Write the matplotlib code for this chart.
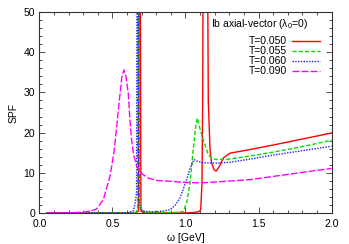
import numpy as np
import matplotlib
matplotlib.use("Agg")
import matplotlib.pyplot as plt
from matplotlib.ticker import MultipleLocator

plt.rcParams["font.family"] = ["Liberation Sans", "DejaVu Sans"]
plt.rcParams["mathtext.fontset"] = "custom"
plt.rcParams["mathtext.rm"] = "Liberation Sans"
plt.rcParams["mathtext.it"] = "Liberation Sans"

# valores (omega en GeV, SPF)
w_050 = [0.05, 0.66, 0.678, 0.684, 0.689, 0.695, 0.72, 1.0, 1.05, 1.09, 1.104, 1.113,
         1.118, 1.122, 1.149, 1.156, 1.168, 1.179, 1.195, 1.209, 1.232, 1.259, 1.305,
         1.4, 1.6, 1.8, 2.0]
s_050 = [0.0, 0.0, 0.5, 80, 80, 0.5, 0.0, 0.0, 0.1, 0.3, 0.8, 7.5,
         30, 80, 80, 28, 15.7, 12.4, 10.8, 10.4, 11.6, 13.7, 14.9,
         15.5, 16.9, 18.4, 19.9]

w_055 = [0.05, 0.66, 0.672, 0.676, 0.68, 0.684, 0.695, 0.72, 0.9, 0.95, 0.985, 1.008,
         1.031, 1.053, 1.07, 1.081, 1.095, 1.122, 1.156, 1.185, 1.214, 1.3, 1.5, 1.7,
         1.85, 2.0]
s_055 = [0.0, 0.1, 1.0, 80, 80, 3.0, 1.0, 0.2, 0.1, 0.2, 0.4, 2.5,
         7.5, 15.8, 21.5, 23.6, 21.5, 18.2, 14.5, 13.5, 13.3, 13.4, 14.5, 15.8,
         16.9, 18.1]

w_060 = [0.05, 0.6, 0.643, 0.655, 0.665, 0.669, 0.674, 0.68, 0.69, 0.72, 0.8, 0.85,
         0.894, 0.93, 0.962, 0.985, 1.008, 1.03, 1.058, 1.08, 1.12, 1.21, 1.3, 1.442,
         1.6, 1.8, 2.0]
s_060 = [0.0, 0.05, 0.5, 2.5, 5.0, 80, 80, 3.0, 1.0, 0.4, 0.3, 0.5,
         0.8, 2.0, 3.7, 6.0, 8.3, 11.0, 13.3, 12.9, 12.5, 12.4, 12.6, 13.4,
         14.4, 15.5, 16.6]

w_090 = [0.05, 0.2, 0.3, 0.35, 0.392, 0.437, 0.483, 0.51, 0.529, 0.55, 0.565, 0.579,
         0.592, 0.608, 0.62, 0.631, 0.645, 0.666, 0.7, 0.745, 0.8, 0.894, 1.0, 1.1,
         1.2, 1.442, 1.6, 1.8, 2.0]
s_090 = [0.0, 0.05, 0.2, 0.5, 1.0, 3.3, 9.1, 15.0, 21.5, 29.0, 34.0, 35.6,
         34.0, 29.8, 23.0, 18.2, 14.5, 11.6, 9.8, 8.7, 8.1, 7.9, 7.6, 7.5,
         7.7, 8.3, 9.1, 10.1, 11.1]

series = [
    (w_050, s_050, "T=0.050", "#ff0000", "-"),
    (w_055, s_055, "T=0.055", "#00dd00", (0, (3, 1.5))),
    (w_060, s_060, "T=0.060", "#2020ff", (0, (1, 1))),
    (w_090, s_090, "T=0.090", "#ff00ff", (0, (5, 1.5))),
]

fig = plt.figure(figsize=(3.49, 2.44), dpi=100)
ax = fig.add_axes([0.113, 0.127, 0.837, 0.824])

for w, s, lab, col, ls in series:
    ax.plot(w, s, color=col, linestyle=ls, linewidth=1.0, label=lab)

ax.set_xlim(0, 2)
ax.set_ylim(0, 50)
ax.xaxis.set_major_locator(MultipleLocator(0.5))
ax.xaxis.set_minor_locator(MultipleLocator(0.1))
ax.yaxis.set_major_locator(MultipleLocator(10))
ax.yaxis.set_minor_locator(MultipleLocator(2))
ax.xaxis.set_major_formatter(plt.FormatStrFormatter("%.1f"))
ax.tick_params(which="both", direction="in", top=True, right=True, labelsize=7.5,
               width=0.6, colors="#333333", labelcolor="black")
ax.tick_params(which="major", length=4)
ax.tick_params(axis="x", which="major", pad=4)
ax.tick_params(axis="y", which="major", pad=3)
ax.tick_params(which="minor", length=2)
for sp in ax.spines.values():
    sp.set_linewidth(0.8)
    sp.set_color("#333333")

ax.set_xlabel("ω [GeV]", fontsize=7.5, labelpad=3)
ax.set_ylabel("SPF", fontsize=7.5, labelpad=4)

ax.text(0.589, 0.94, r"Ib axial-vector ($\lambda_0$=0)", transform=ax.transAxes,
        fontsize=7.5, ha="left", va="center")
ax.legend(loc="upper right", bbox_to_anchor=(0.98, 0.905), frameon=False,
          markerfirst=False, fontsize=7.5, handlelength=2.7, handletextpad=0.5,
          labelspacing=0.0, borderpad=0.0)

fig.savefig("out.png", dpi=100)
